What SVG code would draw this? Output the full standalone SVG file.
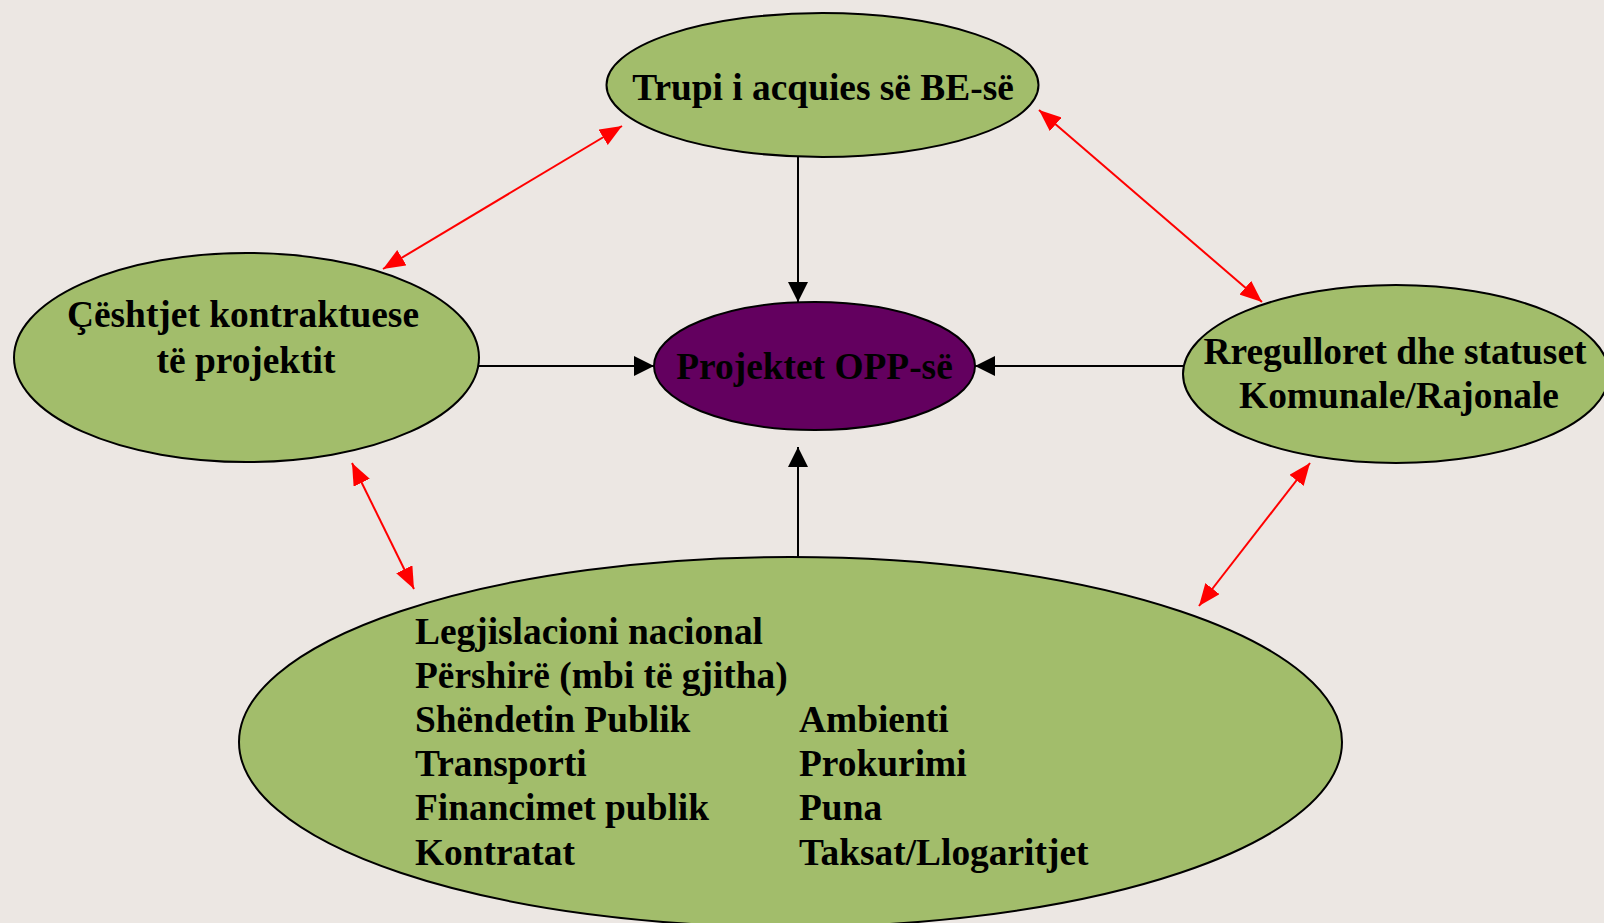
<svg xmlns="http://www.w3.org/2000/svg" width="1604" height="923" viewBox="0 0 1604 923">
<style>
.node{fill:#A2BD6B;stroke:#000;stroke-width:2}
.hub{fill:#63005F;stroke:#000;stroke-width:2}
text{font-family:"Liberation Serif","Times New Roman",serif;font-weight:bold;font-size:37.4px;fill:#000}
.c{text-anchor:middle}
.blk{stroke:#000;stroke-width:2;fill:none;marker-end:url(#ab)}
.red{stroke:#FF0000;stroke-width:2;fill:none;marker-start:url(#ar);marker-end:url(#ar)}
</style>
<defs>
<marker id="ab" markerUnits="userSpaceOnUse" markerWidth="20" markerHeight="20" refX="20" refY="10" orient="auto"><path d="M0,0 L20,10 L0,20 z" fill="#000"/></marker>
<marker id="ar" markerUnits="userSpaceOnUse" markerWidth="22" markerHeight="18" refX="22" refY="9" orient="auto-start-reverse"><path d="M0,0 L22,9 L0,18 z" fill="#FF0000"/></marker>
</defs>
<rect width="1604" height="923" fill="#ECE7E3"/>
<g id="connectors">
<line class="blk" x1="798" y1="157" x2="798" y2="302"/>
<line class="blk" x1="798" y1="557" x2="798" y2="447"/>
<line class="blk" x1="479" y1="366" x2="654" y2="366"/>
<line class="blk" x1="1184" y1="366" x2="975" y2="366"/>
<line class="red" x1="383" y1="269" x2="622" y2="126"/>
<line class="red" x1="1039" y1="110" x2="1262" y2="302"/>
<line class="red" x1="352" y1="463" x2="414" y2="589"/>
<line class="red" x1="1310" y1="463" x2="1199" y2="606"/>
</g>
<g id="acquis">
<ellipse class="node" cx="822.5" cy="85" rx="216" ry="72"/>
<text class="c" x="823" y="100">Trupi i acquies së BE-së</text>
</g>
<g id="kontraktuese">
<ellipse class="node" cx="246.5" cy="357.5" rx="232.5" ry="104.5"/>
<text class="c" x="243" y="327">Çështjet kontraktuese</text>
<text class="c" x="246" y="373">të projektit</text>
</g>
<g id="rregulloret">
<ellipse class="node" cx="1396" cy="374" rx="213" ry="89"/>
<text class="c" x="1395" y="364">Rregulloret dhe statuset</text>
<text class="c" x="1399" y="408">Komunale/Rajonale</text>
</g>
<g id="projektet">
<ellipse class="hub" cx="814.5" cy="366" rx="160.5" ry="64"/>
<text class="c" x="814.5" y="379">Projektet OPP-së</text>
</g>
<g id="legjislacioni">
<ellipse class="node" cx="790.5" cy="742" rx="551.5" ry="185"/>
<text x="415" y="644">Legjislacioni nacional</text>
<text x="415" y="688">Përshirë (mbi të gjitha)</text>
<text x="415" y="732">Shëndetin Publik</text>
<text x="415" y="776">Transporti</text>
<text x="415" y="820">Financimet publik</text>
<text x="415" y="865">Kontratat</text>
<text x="799" y="732">Ambienti</text>
<text x="799" y="776">Prokurimi</text>
<text x="799" y="820">Puna</text>
<text x="799" y="865">Taksat/Llogaritjet</text>
</g>
</svg>
